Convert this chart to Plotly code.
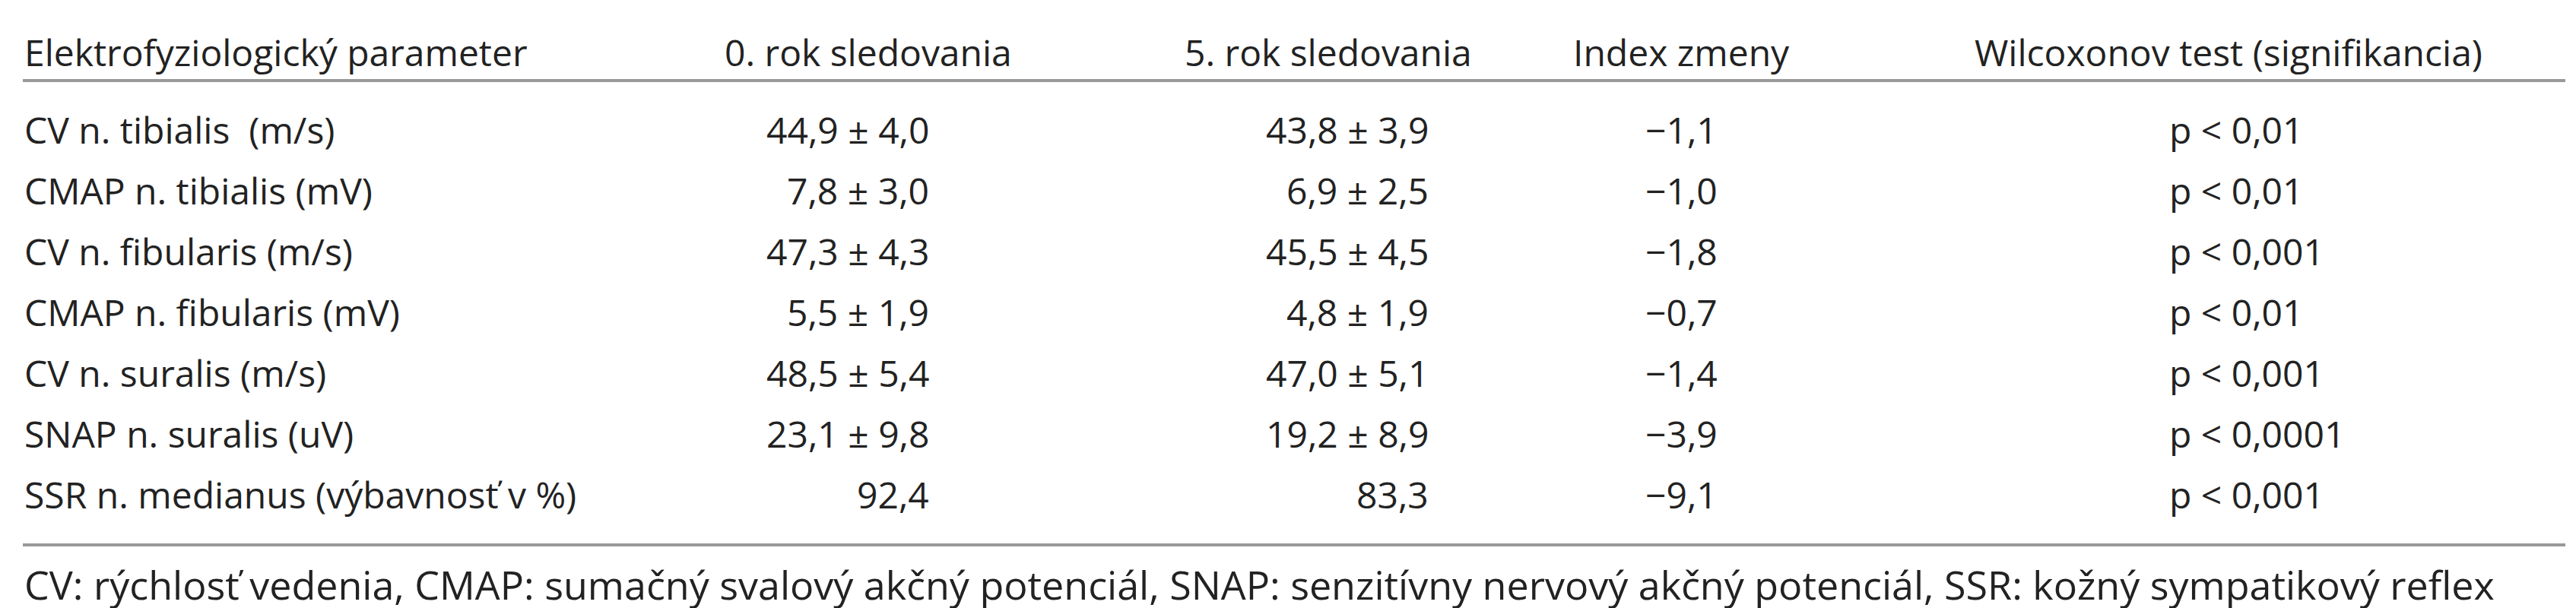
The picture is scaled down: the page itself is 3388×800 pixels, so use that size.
import plotly.graph_objects as go

headers = ["Elektrofyziologický parameter", "0. rok sledovania", "5. rok sledovania",
           "Index zmeny", "Wilcoxonov test (signifikancia)"]
params = ["CV n. tibialis  (m/s)", "CMAP n. tibialis (mV)", "CV n. fibularis (m/s)",
          "CMAP n. fibularis (mV)", "CV n. suralis (m/s)", "SNAP n. suralis (uV)",
          "SSR n. medianus (výbavnosť v %)"]
year0 = ["44,9 ± 4,0", "7,8 ± 3,0", "47,3 ± 4,3", "5,5 ± 1,9", "48,5 ± 5,4", "23,1 ± 9,8", "92,4"]
year5 = ["43,8 ± 3,9", "6,9 ± 2,5", "45,5 ± 4,5", "4,8 ± 1,9", "47,0 ± 5,1", "19,2 ± 8,9", "83,3"]
index_change = ["−1,1", "−1,0", "−1,8", "−0,7", "−1,4", "−3,9", "−9,1"]
wilcoxon = ["p < 0,01", "p < 0,01", "p < 0,001", "p < 0,01", "p < 0,001", "p < 0,0001", "p < 0,001"]
footnote = ("CV: rýchlosť vedenia, CMAP: sumačný svalový akčný potenciál, "
            "SNAP: senzitívny nervový akčný potenciál, SSR: kožný sympatikový reflex")

W, H = 3388, 800
font = dict(family="Open Sans", size=48, color="#222222")

fig = go.Figure()
ann = []

# header row
head_x = [22, 1134, 1739, 2203, 2923]
head_anchor = ["left", "center", "center", "center", "center"]
for h, x, a in zip(headers, head_x, head_anchor):
    ann.append(dict(x=x, y=60, text=h, xanchor=a, font=font))

# body rows
row_y0, row_dy = 162, 80
for i in range(len(params)):
    y = row_y0 + i * row_dy
    ann.append(dict(x=22, y=y, text=params[i], xanchor="left", font=font))
    ann.append(dict(x=1216, y=y, text=year0[i], xanchor="right", font=font))
    ann.append(dict(x=1873, y=y, text=year5[i], xanchor="right", font=font))
    ann.append(dict(x=2203, y=y, text=index_change[i], xanchor="center", font=font))
    ann.append(dict(x=2843, y=y, text=wilcoxon[i], xanchor="left", font=font))

ann.append(dict(x=22, y=760, text=footnote, xanchor="left", font=dict(font, size=52)))

for a in ann:
    a.update(xref="x", yref="y", yanchor="middle", showarrow=False)

fig.update_layout(
    width=W, height=H,
    margin=dict(l=0, r=0, t=0, b=0),
    paper_bgcolor="white", plot_bgcolor="white",
    xaxis=dict(range=[0, W], visible=False, fixedrange=True),
    yaxis=dict(range=[H, 0], visible=False, fixedrange=True),
    annotations=ann,
    shapes=[
        dict(type="line", xref="x", yref="y", x0=22, x1=3366, y0=98, y1=98,
             line=dict(color="#999999", width=4)),
        dict(type="line", xref="x", yref="y", x0=22, x1=3366, y0=709, y1=709,
             line=dict(color="#999999", width=4)),
    ],
    showlegend=False,
)

fig.write_html("out.html")
